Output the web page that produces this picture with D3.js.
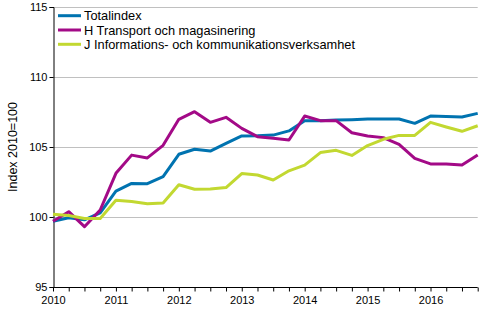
<!DOCTYPE html>
<html>
<head>
<meta charset="utf-8">
<script src="https://cdn.jsdelivr.net/npm/d3@7"></script>
<style>
  html, body { margin: 0; padding: 0; background: #fff; }
  svg { display: block; font-family: "Liberation Sans", Arial, sans-serif; }
</style>
</head>
<body>
<svg id="chart" width="500" height="330"></svg>
<script>
// Quarterly index values, 2010Q1 – 2016Q4 (2010 = 100)
const quarters = d3.range(28); // 0 = 2010Q1
const yearLabels = ["2010", "2011", "2012", "2013", "2014", "2015", "2016"];
const yTicks = [95, 100, 105, 110, 115];

const totalindex = [
  99.7, 99.95, 99.8, 100.3, 101.85, 102.4, 102.38, 102.88,
  104.48, 104.84, 104.71, 105.26, 105.79, 105.8, 105.85, 106.15,
  106.88, 106.88, 106.92, 106.95, 107.0, 107.0, 107.0, 106.69,
  107.21, 107.17, 107.14, 107.4
];
const transport = [
  99.7, 100.38, 99.31, 100.5, 103.12, 104.42, 104.22, 105.12,
  106.98, 107.52, 106.76, 107.12, 106.33, 105.74, 105.62, 105.5,
  107.21, 106.88, 106.88, 106.02, 105.79, 105.67, 105.19, 104.19,
  103.79, 103.79, 103.71, 104.43
];
const infokomm = [
  100.2, 100.1, 99.9, 99.9, 101.2, 101.1, 100.95, 101.0,
  102.3, 101.98, 102.0, 102.1, 103.1, 103.0, 102.64, 103.3,
  103.7, 104.6, 104.76, 104.4, 105.1, 105.55, 105.83, 105.83,
  106.76, 106.43, 106.12, 106.52
];

const seriesNames = [
  "Totalindex",
  "H Transport och magasinering",
  "J Informations- och kommunikationsverksamhet"
];
const seriesColors = ["#0073b0", "#a30a87", "#c2d831"];
const seriesValues = [totalindex, transport, infokomm];

const svg = d3.select("#chart");
const margin = { left: 53, right: 22, top: 7, bottom: 43 };
const W = 500, H = 330;

const x = d3.scaleLinear()
  .domain([0, 27])
  .range([margin.left, W - margin.right - 0.3]);
const y = d3.scaleLinear()
  .domain([95, 115])
  .range([H - margin.bottom, margin.top]);

// horizontal grid lines
svg.append("g")
  .selectAll("line")
  .data(yTicks.filter(d => d > 95))
  .join("line")
  .attr("x1", x(0)).attr("x2", x(27))
  .attr("y1", d => Math.round(y(d)) + 0.5)
  .attr("y2", d => Math.round(y(d)) + 0.5)
  .attr("stroke", "#c0c0c0")
  .attr("stroke-width", 1);

// y axis
const yAxis = svg.append("g")
  .attr("transform", `translate(${margin.left + 0.5},0)`)
  .call(d3.axisLeft(y).tickValues(yTicks).tickSize(4).tickPadding(2).tickFormat(d3.format("d")));
yAxis.select(".domain").attr("stroke", "#000");
yAxis.selectAll(".tick line").attr("stroke", "#000");
yAxis.selectAll("text").attr("font-size", 11).attr("fill", "#000")
  .attr("font-family", "Liberation Sans, Arial, sans-serif");

// x axis: a tick every quarter, a label every year
const xAxis = svg.append("g")
  .attr("transform", `translate(0,${Math.round(y(95)) + 0.5})`)
  .call(d3.axisBottom(x).tickValues(quarters).tickSize(4).tickPadding(5)
    .tickFormat(d => d % 4 === 0 ? yearLabels[d / 4] : ""));
xAxis.select(".domain").attr("stroke", "#000").attr("d", `M${x(0)},0H${x(27)}`);
xAxis.selectAll(".tick line").attr("stroke", "#000");
xAxis.selectAll("text").attr("font-size", 11).attr("fill", "#000")
  .attr("font-family", "Liberation Sans, Arial, sans-serif");

// y axis title
svg.append("text")
  .attr("transform", `translate(17,147) rotate(-90)`)
  .attr("text-anchor", "middle")
  .attr("font-size", 12.5)
  .attr("fill", "#000")
  .text("Index 2010=100");

// series lines
const line = d3.line()
  .x((d, i) => x(i))
  .y(d => y(d));

svg.append("g")
  .selectAll("path")
  .data(seriesValues)
  .join("path")
  .attr("d", d => line(d))
  .attr("fill", "none")
  .attr("stroke", (d, i) => seriesColors[i])
  .attr("stroke-width", 3)
  .attr("stroke-linejoin", "round");

// legend
const legend = svg.append("g");
const legendY = [15.7, 30, 44.3];
seriesNames.forEach((name, i) => {
  legend.append("line")
    .attr("x1", 58).attr("x2", 81)
    .attr("y1", legendY[i]).attr("y2", legendY[i])
    .attr("stroke", seriesColors[i])
    .attr("stroke-width", 3);
  legend.append("text")
    .attr("x", 84)
    .attr("y", legendY[i])
    .attr("dy", "0.36em")
    .attr("font-size", 12.8)
    .attr("fill", "#000")
    .text(name);
});
</script>
</body>
</html>
